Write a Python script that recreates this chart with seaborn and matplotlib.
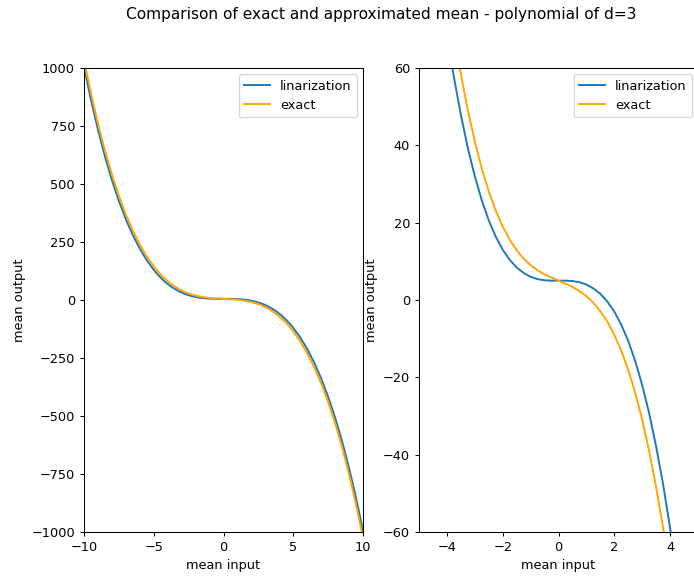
import matplotlib
import matplotlib.pyplot as plt
import pandas as pd
import seaborn as sns

matplotlib.use("Agg")

# the reference looks like a default matplotlib figure shrunk by ~0.925
SCALE = 0.925
plt.rcParams.update(
    {
        "font.size": 10 * SCALE,
        "lines.linewidth": 1.5 * SCALE,
        "axes.linewidth": 0.8 * SCALE,
        "axes.labelpad": 4 * SCALE,
        "xtick.major.size": 3.5 * SCALE,
        "ytick.major.size": 3.5 * SCALE,
        "xtick.major.width": 0.8 * SCALE,
        "ytick.major.width": 0.8 * SCALE,
        "xtick.major.pad": 3.5 * SCALE,
        "ytick.major.pad": 3.5 * SCALE,
        "patch.linewidth": 1.0 * SCALE,
    }
)

# mean input samples (coarser at the ends, finer near the middle)
mean_input = [
    -10, -9.5, -9, -8.5, -8, -7.5, -7, -6.5, -6, -5.5, -5,
    -4.75, -4.5, -4.25, -4, -3.75, -3.5, -3.25, -3, -2.75, -2.5, -2.25,
    -2, -1.75, -1.5, -1.25, -1, -0.75, -0.5, -0.25, 0, 0.25, 0.5, 0.75,
    1, 1.25, 1.5, 1.75, 2, 2.25, 2.5, 2.75, 3, 3.25, 3.5, 3.75, 4,
    4.25, 4.5, 4.75,
    5, 5.5, 6, 6.5, 7, 7.5, 8, 8.5, 9, 9.5, 10,
]

# mean output
linearization = [
    1005, 862.4, 734, 619.1, 517, 426.9, 348, 279.6, 221, 171.4, 130,
    112.2, 96.1, 81.8, 69, 57.7, 47.9, 39.3, 32, 25.8, 20.6, 16.4,
    13, 10.4, 8.4, 7.0, 6, 5.4, 5.1, 5.0, 5, 5.0, 4.9, 4.6,
    4, 3.0, 1.6, -0.4, -3, -6.4, -10.6, -15.8, -22, -29.3, -37.9, -47.7, -59,
    -71.8, -86.1, -102.2,
    -120, -161.4, -211, -269.6, -338, -416.9, -507, -609.1, -724, -852.4, -995,
]
exact = [
    1035, 890.9, 761, 644.6, 541, 449.4, 369, 299.1, 239, 187.9, 145,
    126.4, 109.6, 94.5, 81, 69.0, 58.4, 49.1, 41, 34.0, 28.1, 23.1,
    19, 15.6, 12.9, 10.7, 9, 7.7, 6.6, 5.8, 5, 4.2, 3.4, 2.3,
    1, -0.7, -2.9, -5.6, -9, -13.1, -18.1, -24.0, -31, -39.1, -48.4, -59.0, -71,
    -84.5, -99.6, -116.4,
    -135, -177.9, -229, -289.1, -359, -439.4, -531, -634.6, -751, -880.9, -1025,
]

df = pd.DataFrame(
    {"mean input": mean_input, "linarization": linearization, "exact": exact}
)

fig = plt.figure(figsize=(6.94, 5.77), dpi=100)
ax_left = fig.add_axes([84 / 694, 45 / 577, 279 / 694, 464 / 577])
ax_right = fig.add_axes([419 / 694, 45 / 577, 279 / 694, 464 / 577])

limits = [(ax_left, (-10, 10), (-1000, 1000)), (ax_right, (-5, 5), (-60, 60))]
for ax, xlim, ylim in limits:
    sns.lineplot(
        data=df, x="mean input", y="linarization", label="linarization",
        color="tab:blue", sort=False, ax=ax,
    )
    sns.lineplot(
        data=df, x="mean input", y="exact", label="exact",
        color="orange", sort=False, ax=ax,
    )
    ax.set_xlim(*xlim)
    ax.set_ylim(*ylim)
    ax.set_xlabel("mean input")
    ax.set_ylabel("mean output")
    ax.legend(loc="upper right")

ax_left.set_xticks([-10, -5, 0, 5, 10])
ax_right.set_xticks([-4, -2, 0, 2, 4])

fig.suptitle(
    "Comparison of exact and approximated mean - polynomial of d=3",
    x=381 / 694, y=0.988,
)

fig.savefig("out.png", dpi=100)
